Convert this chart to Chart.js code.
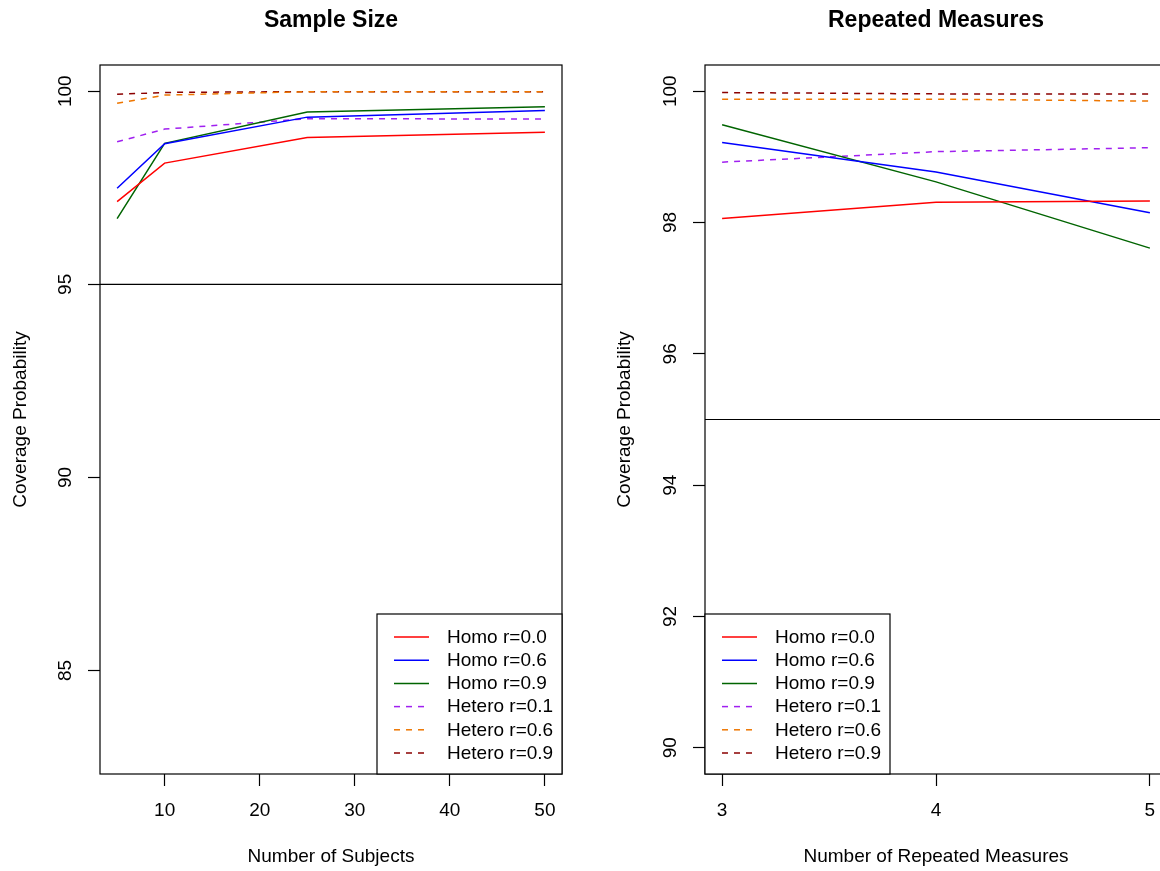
<!DOCTYPE html>
<html><head><meta charset="utf-8">
<script src="https://cdn.jsdelivr.net/npm/chart.js@4"></script>
<style>
html,body{margin:0;padding:0;background:#fff;overflow:hidden;width:1160px;height:871px;}
canvas{position:absolute;top:0;}
#c1{left:0}
#c2{left:605px}
</style></head><body>
<canvas id="c1" width="580" height="871"></canvas>
<canvas id="c2" width="595" height="871"></canvas>
<script>
// ---- data ----
const seriesLabels = ['Homo r=0.0','Homo r=0.6','Homo r=0.9','Hetero r=0.1','Hetero r=0.6','Hetero r=0.9'];

const subjects = [5, 10, 25, 50];
const ssHomo00   = [97.14, 98.14, 98.80, 98.94];
const ssHomo06   = [97.49, 98.64, 99.33, 99.50];
const ssHomo09   = [96.70, 98.65, 99.46, 99.60];
const ssHetero01 = [98.69, 99.02, 99.29, 99.28];
const ssHetero06 = [99.69, 99.90, 99.99, 99.99];
const ssHetero09 = [99.92, 99.97, 99.99, 99.99];
const subjectTicks = [10, 20, 30, 40, 50];
const sampleYTicks = [85, 90, 95, 100];

const repeats = [3, 4, 5];
const rmHomo00   = [98.06, 98.31, 98.33];
const rmHomo06   = [99.22, 98.77, 98.15];
const rmHomo09   = [99.49, 98.62, 97.61];
const rmHetero01 = [98.92, 99.08, 99.14];
const rmHetero06 = [99.88, 99.88, 99.85];
const rmHetero09 = [99.98, 99.96, 99.96];
const repeatTicks = [3, 4, 5];
const repeatYTicks = [90, 92, 94, 96, 98, 100];

const refLine = 95;

// ---- styles ----
const colors = ['#FF0000', '#0000FF', '#006400', '#A020F0', '#EE7600', '#8B0000'];
const dashes = [[], [], [], [6, 6], [6, 6], [6, 6]];
const FONT = '"Liberation Sans", Arial, Helvetica, sans-serif';
Chart.defaults.font.family = FONT;
Chart.defaults.color = '#000';

const rPlot = {
  id: 'rplot',
  afterDraw(chart, args, opts) {
    const {ctx, chartArea: a, scales: {x, y}} = chart;
    ctx.save();
    ctx.strokeStyle = '#000';
    ctx.lineWidth = 1.2;
    ctx.setLineDash([]);
    // reference line
    const yr = y.getPixelForValue(opts.ref);
    ctx.beginPath(); ctx.moveTo(a.left, yr); ctx.lineTo(a.right, yr); ctx.stroke();
    // box
    ctx.strokeRect(a.left, a.top, a.right - a.left, a.bottom - a.top);
    // rotated y tick labels
    ctx.fillStyle = '#000';
    ctx.font = '19px ' + FONT;
    ctx.textAlign = 'center';
    ctx.textBaseline = 'middle';
    y.ticks.forEach((t, i) => {
      const py = y.getPixelForTick(i);
      ctx.save();
      ctx.translate(a.left - 34, py);
      ctx.rotate(-Math.PI / 2);
      ctx.fillText(String(t.value), 0, 0);
      ctx.restore();
    });
    // title
    ctx.font = 'bold 23px ' + FONT;
    ctx.fillText(opts.title, (a.left + a.right) / 2, 20.5);
    // legend
    const w = 185, h = 160;
    const bx = opts.legendSide === 'right' ? a.right - w : a.left;
    const by = a.bottom - h;
    ctx.fillStyle = '#fff';
    ctx.fillRect(bx, by, w, h);
    ctx.strokeStyle = '#000';
    ctx.lineWidth = 1.2;
    ctx.strokeRect(bx, by, w, h);
    ctx.font = '19px ' + FONT;
    ctx.textAlign = 'left';
    chart.data.datasets.forEach((ds, i) => {
      const ry = by + 23 + i * 23.2;
      ctx.strokeStyle = ds.borderColor;
      ctx.lineWidth = 1.5;
      ctx.setLineDash(ds.borderDash || []);
      ctx.beginPath(); ctx.moveTo(bx + 17, ry); ctx.lineTo(bx + 52, ry); ctx.stroke();
      ctx.setLineDash([]);
      ctx.fillStyle = '#000';
      ctx.fillText(ds.label, bx + 70, ry + 0.5);
    });
    ctx.restore();
  }
};

function makeChart(id, xs, series, xr, xTicks, yr, yTicks, xTitle, title, legendSide, padRight, yTitlePad) {
  const datasets = series.map((vals, i) => ({
    label: seriesLabels[i],
    data: xs.map((xv, j) => ({x: xv, y: vals[j]})),
    borderColor: colors[i],
    borderWidth: 1.5,
    borderDash: dashes[i],
    pointRadius: 0,
    fill: false,
    tension: 0
  }));
  const gridOpts = {display: true, drawOnChartArea: false, drawTicks: true, tickLength: 12,
                    color: '#000', tickColor: '#000', tickWidth: 1.2};
  return new Chart(document.getElementById(id), {
    type: 'line',
    data: {datasets},
    plugins: [rPlot],
    options: {
      responsive: false,
      animation: false,
      layout: {padding: {top: 65, right: padRight, left: 0, bottom: 0}},
      plugins: {
        legend: {display: false},
        tooltip: {enabled: false},
        rplot: {ref: refLine, title: title, legendSide: legendSide}
      },
      scales: {
        x: {
          type: 'linear', min: xr[0], max: xr[1],
          afterBuildTicks: s => { s.ticks = xTicks.map(v => ({value: v})); },
          afterFit: s => { s.height = 97; },
          grid: gridOpts,
          border: {display: false},
          ticks: {color: '#000', font: {size: 19}, padding: 13, maxRotation: 0, minRotation: 0, autoSkip: false},
          title: {display: true, text: xTitle, color: '#000', font: {size: 19}, padding: {top: 0, bottom: 3}}
        },
        y: {
          type: 'linear', min: yr[0], max: yr[1],
          afterBuildTicks: s => { s.ticks = yTicks.map(v => ({value: v})); },
          afterFit: s => { s.width = 100; },
          grid: gridOpts,
          border: {display: false},
          ticks: {color: 'rgba(0,0,0,0)', font: {size: 19}, autoSkip: false},
          title: {display: true, text: 'Coverage Probability', color: '#000', font: {size: 19}, padding: {top: yTitlePad, bottom: 0}}
        }
      }
    }
  });
}

makeChart('c1', subjects,
  [ssHomo00, ssHomo06, ssHomo09, ssHetero01, ssHetero06, ssHetero09],
  [3.2, 51.8], subjectTicks, [82.32, 100.68], sampleYTicks,
  'Number of Subjects', 'Sample Size', 'right', 18, 9.5);

makeChart('c2', repeats,
  [rmHomo00, rmHomo06, rmHomo09, rmHetero01, rmHetero06, rmHetero09],
  [2.92, 5.08], repeatTicks, [89.6, 100.4], repeatYTicks,
  'Number of Repeated Measures', 'Repeated Measures', 'left', 33, 8);
</script>
</body></html>
